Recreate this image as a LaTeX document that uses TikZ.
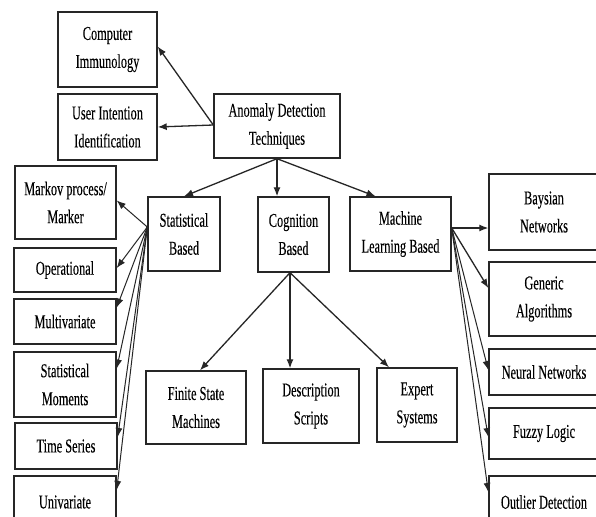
\documentclass[tikz,border=0pt]{standalone}
\usepackage{fontspec}
\setmainfont[FakeStretch=0.63,FakeBold=0.15]{Liberation Serif}
\usetikzlibrary{arrows.meta}
\begin{document}
\begin{tikzpicture}[x=1pt,y=-1pt,
  box/.style={draw=black!85, line width=1.4pt, align=center, inner sep=0pt,
    font=\fontsize{19.6}{28}\selectfont},
  arr/.style={-{Latex[length=9pt,width=7pt]}, line width=1.3pt, draw=black!85},
  fan/.style={-{Latex[length=9pt,width=7pt]}, line width=1pt, draw=black!85}]
\clip (0,0) rectangle (596,516);
\fill[white] (0,0) rectangle (596,516);
% top
\node[box, minimum width=99pt, minimum height=75pt] (ci) at (107.5,49.5) {Computer\\Immunology};
\node[box, minimum width=99pt, minimum height=66pt] (uii) at (107.5,127) {User Intention\\Identification};
\node[box, minimum width=126pt, minimum height=64pt] (adt) at (277,126) {Anomaly Detection\\Techniques};
% middle row
\node[box, minimum width=72pt, minimum height=74pt] (stat) at (184,234) {Statistical\\Based};
\node[box, minimum width=71pt, minimum height=75pt] (cog) at (293.5,234.5) {Cognition\\Based};
\node[box, minimum width=101pt, minimum height=74pt] (ml) at (400.5,234) {Machine\\Learning Based};
% left column
\node[box, minimum width=101pt, minimum height=73pt] (markov) at (65.5,202.5) {Markov process/\\Marker};
\node[box, minimum width=102pt, minimum height=44pt] (oper) at (65,270) {Operational};
\node[box, minimum width=102pt, minimum height=45pt] (multi) at (65,321.5) {Multivariate};
\node[box, minimum width=102pt, minimum height=65pt] (moments) at (65,384.5) {Statistical\\Moments};
\node[box, minimum width=102pt, minimum height=46pt] (tseries) at (66,446) {Time Series};
\node[box, minimum width=102pt, minimum height=52pt] (uni) at (65,502) {Univariate};
% bottom row
\node[box, minimum width=100pt, minimum height=73pt] (fsm) at (196,407.5) {Finite State\\Machines};
\node[box, minimum width=96pt, minimum height=74pt] (ds) at (311,406) {Description\\Scripts};
\node[box, minimum width=80pt, minimum height=74pt] (es) at (417,405) {Expert\\Systems};
% right column
\node[box, minimum width=110pt, minimum height=76pt] (bay) at (544,212) {Baysian\\Networks};
\node[box, minimum width=110pt, minimum height=74pt] (gen) at (544,299) {Generic\\Algorithms};
\node[box, minimum width=110pt, minimum height=46pt] (neur) at (544,372) {Neural Networks};
\node[box, minimum width=110pt, minimum height=51pt] (fuzzy) at (544,433.5) {Fuzzy Logic};
\node[box, minimum width=110pt, minimum height=52pt] (outl) at (544,502) {Outlier Detection};
% sources
\coordinate (adtw) at ([yshift=1pt]adt.west);
\coordinate (stats) at ([yshift=7pt]stat.west);
\coordinate (mls) at ([yshift=6pt]ml.east);
\coordinate (cogs) at ([xshift=-3.5pt]cog.south);
% top arrows
\draw[arr] (adtw) -- ([yshift=3pt]ci.east);
\draw[arr] (adtw) -- (uii.east);
\draw[arr] (adt.south) -- (stat.north);
\draw[arr] (adt.south) -- (adt.south |- cog.north);
\draw[arr] (adt.south) -- ([xshift=-25pt]ml.north);
% statistical fan
\draw[fan] (stats) -- ([yshift=2pt]markov.east);
\draw[fan] (stats) -- ([yshift=2pt]oper.east);
\draw[fan] (stats) -- ([yshift=14pt]multi.east);
\draw[fan] (stats) -- ([yshift=16pt]moments.east);
\draw[fan] (stats) -- ([yshift=9pt]tseries.east);
\draw[fan] (stats) -- ([yshift=12pt]uni.east);
% cognition fan
\draw[arr] (cogs) -- ([xshift=4pt]fsm.north);
\draw[arr] (cogs) -- (cogs |- ds.north);
\draw[arr] (cogs) -- ([xshift=-28pt]es.north);
% machine learning fan
\draw[arr] (mls) -- (mls -| bay.west);
\draw[arr] (mls) -- ([yshift=11pt]gen.west);
\draw[fan] (mls) -- ([yshift=2pt]neur.west);
\draw[fan] (mls) -- ([yshift=-3.5pt]fuzzy.west);
\draw[fan] (mls) -- ([yshift=10pt]outl.west);
\end{tikzpicture}
\end{document}
